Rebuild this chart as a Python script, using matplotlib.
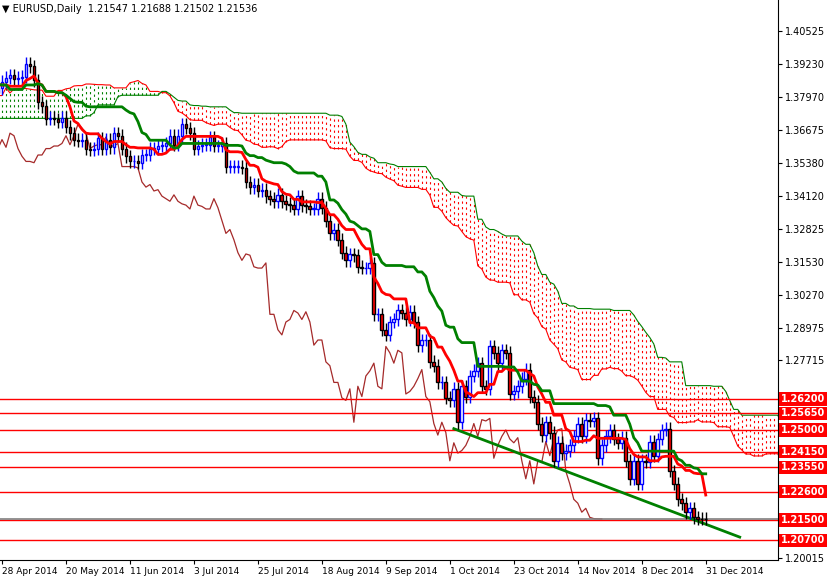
import matplotlib
matplotlib.use("Agg")
import matplotlib.pyplot as plt
import numpy as np
from matplotlib.transforms import blended_transform_factory

pre_closes = [1.3630,1.3590,1.3610,1.3590,1.3570,1.3620,1.3650,1.3670,1.3670,1.3610,1.3600,1.3535,1.3545,1.3560,1.3690,1.3680,1.3665,1.3665,1.3610,1.3540,1.3490,
 1.3520,1.3510,1.3535,1.3595,1.3635,1.3630,1.3650,1.3595,1.3660,1.3690,1.3710,1.3720,1.3735,1.3750,1.3725,1.3750,1.3735,1.3710,1.3670,1.3800,
 1.3780,1.3740,1.3740,1.3860,1.3880,1.3880,1.3920,1.3910,1.3935,1.3910,1.3930,1.3905,1.3925,1.3780,1.3795,1.3775,1.3830,1.3795,1.3770,1.3760,1.3770,
 1.3795,1.3775,1.3815,1.3800,1.3850,1.3815,1.3875,1.3885,1.3890,1.3815,1.3825,1.3805,1.3810,1.3795,1.3810,1.3830]

closes = [1.3855,1.3870,1.3880,1.3865,1.3870,
 1.3875,1.3925,1.3915,1.3860,1.3775,
 1.3760,1.3710,1.3715,1.3710,1.3700,
 1.3715,1.3680,1.3655,1.3630,1.3625,
 1.3630,1.3595,1.3590,1.3595,1.3635,
 1.3595,1.3630,1.3600,1.3655,1.3645,
 1.3595,1.3565,1.3545,1.3545,1.3540,
 1.3570,1.3570,1.3595,1.3595,1.3605,
 1.3605,1.3615,1.3645,1.3610,1.3645,
 1.3690,1.3675,1.3655,1.3595,1.3605,
 1.3610,1.3610,1.3640,1.3605,1.3605,
 1.3615,1.3525,1.3525,1.3525,1.3525,
 1.3520,1.3465,1.3445,1.3455,1.3430,
 1.3435,1.3410,1.3400,1.3390,1.3415,
 1.3390,1.3380,1.3375,1.3360,1.3410,
 1.3375,1.3370,1.3360,1.3360,1.3400,
 1.3365,1.3315,1.3265,1.3280,1.3240,
 1.3190,1.3160,1.3185,1.3180,1.3135,
 1.3130,1.3130,1.3150,1.2950,1.2950,
 1.2890,1.2870,1.2920,1.2930,1.2965,
 1.2955,1.2930,1.2960,1.2920,1.2830,
 1.2850,1.2850,1.2765,1.2750,1.2685,
 1.2685,1.2625,1.2615,1.2660,1.2530,
 1.2670,1.2630,1.2710,1.2730,1.2760,
 1.2670,1.2660,1.2825,1.2800,1.2760,
 1.2810,1.2800,1.2640,1.2650,1.2670,
 1.2700,1.2735,1.2630,1.2610,1.2525,
 1.2480,1.2530,1.2490,1.2380,1.2450,
 1.2410,1.2420,1.2440,1.2475,1.2525,
 1.2475,1.2540,1.2535,1.2545,1.2390,
 1.2440,1.2475,1.2500,1.2465,1.2450,
 1.2470,1.2380,1.2310,1.2380,1.2290,
 1.2380,1.2375,1.2455,1.2400,1.2465,
 1.2500,1.2505,1.2340,1.2290,1.2230,
 1.2215,1.2180,1.2195,1.2160,1.2155,
 1.2154,1.21536]

wick = 0.0025
levels = [1.2620, 1.2565, 1.2500, 1.2415, 1.2355, 1.2260, 1.2150, 1.2070]
level_labels = ["1.26200","1.25650","1.25000","1.24150","1.23550","1.22600","1.21500","1.20700"]
axis_ticks = [1.40525,1.39230,1.37970,1.36675,1.35380,1.34120,1.32825,1.31530,1.30270,1.28975,1.27715,1.20015]
date_labels = ["28 Apr 2014","20 May 2014","11 Jun 2014","3 Jul 2014","25 Jul 2014","18 Aug 2014",
               "9 Sep 2014","1 Oct 2014","23 Oct 2014","14 Nov 2014","8 Dec 2014","31 Dec 2014"]
date_idx = [0,16,32,48,64,80,96,112,128,144,160,176]
trend_x = [113, 184.5]
trend_y = [1.2505, 1.2083]
title = "EURUSD,Daily  1.21547 1.21688 1.21502 1.21536"

allc = np.array(pre_closes + closes)
n_pre = len(pre_closes)
opens = np.concatenate([[allc[0]], allc[:-1]])
highs = np.maximum(opens, allc) + wick
lows = np.minimum(opens, allc) - wick
N = len(allc)
idx = np.arange(N) - n_pre

def mid(p, t):
    return (highs[t-p+1:t+1].max() + lows[t-p+1:t+1].min()) / 2

tenkan = np.array([mid(9, t) if t >= 8 else np.nan for t in range(N)])
kijun = np.array([mid(26, t) if t >= 25 else np.nan for t in range(N)])
spanA = (tenkan + kijun) / 2
spanB = np.array([mid(52, t) if t >= 51 else np.nan for t in range(N)])
cx = idx + 26

fig = plt.figure(figsize=(8.3, 5.78), dpi=100)
ax = fig.add_axes([0.0, 0.031, 0.937, 0.969])
ax.set_xlim(-0.5, 194)
ax.set_ylim(1.19936, 1.41732)

m = ~np.isnan(spanB)
for x, a, b in zip(cx[m], spanA[m], spanB[m]):
    if x < -1 or x > 195:
        continue
    col = "#008000" if a > b else "#ff0000"
    ax.vlines(x, min(a, b), max(a, b), colors=col, linestyles=(0, (2, 3)), linewidth=0.8)
ax.plot(cx, spanA, color="#ff0000", lw=0.8)
ax.plot(cx, spanB, color="#008000", lw=0.8)

ax.plot(idx - 26, allc, color="#a52a2a", lw=0.9)

for L in levels:
    ax.axhline(L, color="#ff0000", lw=1)
ax.axhline(closes[-1], color="#808080", lw=1.2)

ax.plot(trend_x, trend_y, color="#008000", lw=2)

for i in range(n_pre - 1, N):
    x = idx[i]
    o, c, h, l = opens[i], allc[i], highs[i], lows[i]
    if c >= o:
        ax.vlines(x, l, h, colors="#0000ff", lw=1)
        ax.add_patch(plt.Rectangle((x - 0.35, o), 0.7, max(c - o, 0.0002), facecolor="white", edgecolor="#0000ff", lw=1, zorder=3))
    else:
        ax.vlines(x, l, h, colors="black", lw=1)
        ax.add_patch(plt.Rectangle((x - 0.35, c), 0.7, o - c, facecolor="#ff0000", edgecolor="black", lw=1, zorder=3))

ax.plot(idx, tenkan, color="#ff0000", lw=2, zorder=4)
ax.plot(idx, kijun, color="#008000", lw=2, zorder=4)

ax.yaxis.tick_right()
ax.set_yticks(axis_ticks)
ax.set_yticklabels([f"{v:.5f}" for v in axis_ticks], fontsize=7)
ax.set_xticks(date_idx)
ax.set_xticklabels(date_labels, fontsize=6.5, ha="left")
ax.tick_params(length=3, pad=2)
for s in ["top", "left"]:
    ax.spines[s].set_visible(False)

tr = blended_transform_factory(ax.transAxes, ax.transData)
for L, t in zip(levels, level_labels):
    ax.text(1.004, L, t, transform=tr, fontsize=7, color="white", fontweight="bold", va="center",
            ha="left", bbox=dict(facecolor="#ff0000", edgecolor="none", pad=1.2), clip_on=False)

fig.text(0.003, 0.985, "\u25bc " + title, fontsize=7, va="center", ha="left")
fig.savefig("out.png", dpi=100)
